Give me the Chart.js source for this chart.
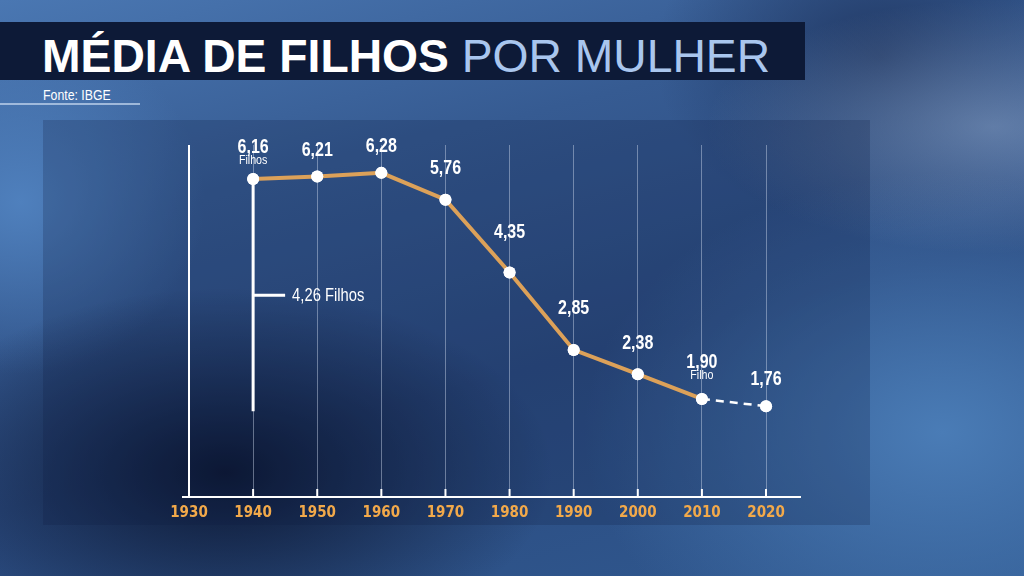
<!DOCTYPE html>
<html lang="pt-BR">
<head>
    <meta charset="UTF-8">
    <title>Média de filhos por mulher</title>
    <script src="https://cdn.jsdelivr.net/npm/chart.js@4.4.1/dist/chart.umd.min.js"></script>
    <style>
        html, body {
            margin: 0;
            padding: 0;
            width: 1024px;
            height: 576px;
            overflow: hidden;
        }
        body {
            position: relative;
            font-family: 'Liberation Sans', Arial, sans-serif;
            background:
                radial-gradient(ellipse 28% 22% at 97% 22%, rgba(150,175,210,0.5), rgba(150,175,210,0) 100%),
                radial-gradient(ellipse 32% 32% at 22% 82%, #0c1732 0%, rgba(12,23,50,0) 100%),
                radial-gradient(ellipse 18% 30% at 2% 35%, #4f80bd 0%, rgba(79,128,189,0) 100%),
                radial-gradient(ellipse 35% 45% at 92% 75%, #4a7cb6 0%, rgba(74,124,182,0) 100%),
                radial-gradient(ellipse 22% 30% at 86% 10%, #223a66 0%, rgba(34,58,102,0) 100%),
                linear-gradient(165deg, #4a77b2 0%, #365b92 30%, #2b4b80 60%, #305990 100%);
        }
        .title-bar {
            position: absolute;
            left: 0;
            top: 22px;
            width: 805px;
            height: 58px;
            background: #0d1a37;
        }
        .title {
            position: absolute;
            left: 42px;
            top: 28px;
            font-size: 46px;
            line-height: 56px;
            color: #ffffff;
            white-space: nowrap;
            transform-origin: 0 0;
        }
        .title b { font-weight: 700; }
        .title span { color: #a9c6ee; font-weight: 400; }
        .source {
            position: absolute;
            left: 43px;
            top: 87px;
            font-size: 14px;
            line-height: 16px;
            color: #ffffff;
            white-space: nowrap;
            transform-origin: 0 0;
            transform: scaleX(0.88);
        }
        .source-line {
            position: absolute;
            left: 0;
            top: 103px;
            width: 140px;
            height: 2px;
            background: rgba(190,210,235,0.75);
        }
        .panel {
            position: absolute;
            left: 43px;
            top: 120px;
            width: 827px;
            height: 405px;
            background: rgba(14,28,62,0.22);
        }
        canvas {
            position: absolute;
            left: 0;
            top: 0;
        }
    </style>
</head>
<body>
    <div class="title-bar"></div>
    <div class="title" id="title"><b>MÉDIA DE FILHOS</b> <span>POR MULHER</span></div>
    <div class="source">Fonte: IBGE</div>
    <div class="source-line"></div>
    <div class="panel"></div>
    <canvas id="chart" width="1024" height="576"></canvas>

    <script>
        const years = [1930, 1940, 1950, 1960, 1970, 1980, 1990, 2000, 2010, 2020];
        const pointYears = [1940, 1950, 1960, 1970, 1980, 1990, 2000, 2010, 2020];
        const children = [6.16, 6.21, 6.28, 5.76, 4.35, 2.85, 2.38, 1.90, 1.76];
        const subLabels = ['Filhos', '', '', '', '', '', '', 'Filho', ''];
        const bracketYear = 1940;
        const bracketTop = 6.16;
        const bracketBottom = 1.66;
        const bracketLabel = '4,26 Filhos';

        // título estreito: ajusta a largura do texto ao da arte
        const title = document.getElementById('title');
        title.style.transform = 'scaleX(' + (728 / title.offsetWidth) + ')';

        const FONT = "'Liberation Sans', Arial, sans-serif";
        const TICK_FONT = "'DejaVu Sans Condensed', 'Liberation Sans', sans-serif";
        const orange = '#dca159';

        function narrowText(ctx, text, x, y, sx) {
            ctx.save();
            ctx.translate(x, y);
            ctx.scale(sx, 1);
            ctx.fillText(text, 0, 0);
            ctx.restore();
        }

        // rótulos, colchete e marcas do eixo
        const overlay = {
            id: 'overlay',
            afterDraw(chart) {
                const { ctx, chartArea, scales: { x, y } } = chart;
                ctx.save();

                // marcas no eixo x
                ctx.strokeStyle = '#ffffff';
                ctx.lineWidth = 2;
                years.slice(1).forEach(v => {
                    const px = x.getPixelForValue(v);
                    ctx.beginPath();
                    ctx.moveTo(px, chartArea.bottom - 8);
                    ctx.lineTo(px, chartArea.bottom + 1);
                    ctx.stroke();
                });
                ctx.beginPath();
                ctx.moveTo(chartArea.left - 7, chartArea.bottom);
                ctx.lineTo(chartArea.left, chartArea.bottom);
                ctx.stroke();

                // colchete 4,26
                const bx = x.getPixelForValue(bracketYear);
                const bTop = y.getPixelForValue(bracketTop);
                const bBot = y.getPixelForValue(bracketBottom);
                const bMid = (bTop + bBot) / 2;
                ctx.lineWidth = 3;
                ctx.beginPath();
                ctx.moveTo(bx, bTop);
                ctx.lineTo(bx, bBot);
                ctx.moveTo(bx, bMid);
                ctx.lineTo(bx + 32, bMid);
                ctx.stroke();
                ctx.fillStyle = '#ffffff';
                ctx.font = '18px ' + FONT;
                ctx.textAlign = 'left';
                ctx.textBaseline = 'middle';
                narrowText(ctx, bracketLabel, bx + 39, bMid + 1, 0.82);

                // redesenha os pontos por cima do colchete
                const meta = chart.getDatasetMeta(0);
                meta.data.forEach(pt => {
                    ctx.beginPath();
                    ctx.arc(pt.x, pt.y, 6, 0, Math.PI * 2);
                    ctx.fill();
                });

                // valores: sobem mais onde a linha chega íngreme
                ctx.textAlign = 'center';
                meta.data.forEach((pt, i) => {
                    const dy = i > 0 ? Math.abs(pt.y - meta.data[i - 1].y) : 0;
                    const hasSub = subLabels[i] !== '';
                    const base = pt.y - 20 - 0.2 * dy - (hasSub ? 6 : 0);
                    ctx.font = 'bold 20px ' + FONT;
                    ctx.textBaseline = 'alphabetic';
                    narrowText(ctx, children[i].toFixed(2).replace('.', ','), pt.x, base, 0.8);
                    if (hasSub) {
                        ctx.font = '13px ' + FONT;
                        ctx.textBaseline = 'top';
                        narrowText(ctx, subLabels[i], pt.x, base + 1, 0.82);
                    }
                });
                ctx.restore();
            }
        };

        new Chart(document.getElementById('chart'), {
            type: 'line',
            data: {
                datasets: [{
                    data: pointYears.map((yr, i) => ({ x: yr, y: children[i] })),
                    borderColor: orange,
                    borderWidth: 4,
                    pointRadius: 6,
                    pointBackgroundColor: '#ffffff',
                    pointBorderWidth: 0,
                    tension: 0,
                    segment: {
                        borderColor: c => c.p1DataIndex === children.length - 1 ? '#ffffff' : orange,
                        borderWidth: c => c.p1DataIndex === children.length - 1 ? 2.5 : 4,
                        borderDash: c => c.p1DataIndex === children.length - 1 ? [8, 6] : undefined
                    }
                }]
            },
            options: {
                responsive: false,
                animation: false,
                layout: { padding: { left: 189, right: 224, top: 145, bottom: 0 } },
                plugins: {
                    legend: { display: false },
                    tooltip: { enabled: false }
                },
                scales: {
                    x: {
                        type: 'linear',
                        min: 1930,
                        max: 2025.3,
                        afterBuildTicks: scale => {
                            scale.ticks = years.map(v => ({ value: v }));
                        },
                        afterFit: scale => { scale.height = 79; },
                        grid: {
                            drawTicks: false,
                            color: c => c.tick && c.tick.value === 1930 ? '#ffffff' : 'rgba(205,215,235,0.45)',
                            lineWidth: c => c.tick && c.tick.value === 1930 ? 2 : 1
                        },
                        border: { display: true, color: '#ffffff', width: 2 },
                        ticks: {
                            color: '#f2a94a',
                            padding: 7,
                            font: { family: TICK_FONT, size: 15, weight: 'bold' },
                            callback: v => String(v)
                        }
                    },
                    y: {
                        display: false,
                        min: 0,
                        max: 6.82
                    }
                }
            },
            plugins: [overlay]
        });
    </script>
</body>
</html>
